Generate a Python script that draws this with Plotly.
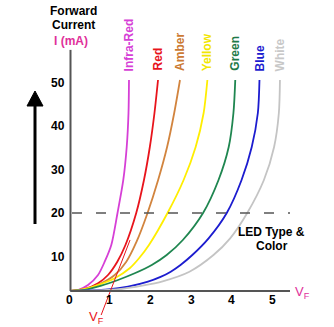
import plotly.graph_objects as go

# ---------------- data ----------------
led_names = ["Infra-Red", "Red", "Amber", "Yellow", "Green", "Blue", "White"]
led_colors = ["#d63fd6", "#e8141c", "#d2843e", "#ffee00", "#1f8650", "#1c1ccf", "#c4c4c4"]
label_colors = ["#d63fd6", "#e8141c", "#cc7a33", "#f2e600", "#1f7a48", "#1c1ccf", "#c8c8c8"]

ir_v = [0.037, 0.221, 0.467, 0.713, 0.877, 1.039, 1.192, 1.334, 1.418, 1.462, 1.474]
ir_i = [2.07, 2.30, 3.45, 5.75, 8.80, 12.64, 20.0, 27.59, 35.17, 42.99, 50.57]

red_v = [0.037, 0.386, 0.713, 0.958, 1.187, 1.387, 1.652, 1.842, 1.986, 2.100, 2.187]
red_i = [2.07, 2.53, 3.84, 5.75, 8.80, 12.64, 20.0, 27.59, 35.17, 42.99, 50.57]

amber_v = [0.037, 0.467, 0.794, 1.123, 1.408, 1.660, 1.930, 2.190, 2.410, 2.585, 2.727]
amber_i = [2.07, 2.69, 3.84, 5.75, 8.80, 13.40, 20.0, 27.59, 35.17, 42.99, 50.57]

yellow_v = [0.037, 0.386, 0.713, 1.123, 1.491, 1.721, 1.965, 2.421, 2.816, 3.112, 3.308, 3.400]
yellow_i = [2.07, 2.53, 3.45, 4.99, 7.29, 9.59, 12.64, 20.0, 27.59, 35.17, 42.99, 50.57]

green_v = [0.037, 0.386, 0.794, 1.204, 1.614, 2.034, 2.400, 2.797, 3.294, 3.674, 3.924, 4.040, 4.085]
green_i = [2.07, 2.30, 3.29, 4.60, 6.14, 8.05, 10.34, 13.79, 20.0, 27.59, 35.17, 42.99, 50.57]

blue_v = [0.037, 0.467, 0.958, 1.450, 1.940, 2.250, 2.500, 2.740, 3.030, 3.430, 3.876, 4.240, 4.490, 4.640, 4.680]
blue_i = [2.07, 2.18, 2.41, 3.06, 4.21, 5.30, 6.51, 8.05, 10.34, 14.18, 20.0, 27.59, 35.17, 42.99, 50.57]

white_v = [0.037, 0.639, 1.278, 1.800, 2.300, 2.960, 3.550, 3.960, 4.379, 4.789, 5.039, 5.156, 5.183]
white_i = [2.07, 2.18, 2.53, 3.30, 4.30, 6.51, 10.34, 14.18, 20.0, 27.59, 35.17, 42.99, 50.57]

curves_v = [ir_v, red_v, amber_v, yellow_v, green_v, blue_v, white_v]
curves_i = [ir_i, red_i, amber_i, yellow_i, green_i, blue_i, white_i]

x_ticks = [0, 1, 2, 3, 4, 5]
x_tick_labels = ["0", "1", "2", "3", "4", "5"]
y_ticks = [10, 20, 30, 40, 50]
y_tick_labels = ["10", "20", "30", "40", "50"]

ref_current = 20          # dashed reference level (mA)
vf_line_v = [0.79, 1.50]  # forward-voltage construction line
vf_line_i = [-3.45, 13.8]

# ---------------- layout constants ----------------
W, H = 334, 327
X_RANGE = [-1.6953, 6.5111]
Y_RANGE = [-6.207, 68.966]
AX_V0, AX_I0 = 0.037, 2.07      # axis corner
AX_V1 = 5.43                     # end of V axis
AX_I1 = 57.5                     # top of I axis
AXIS_COLOR = "#555555"
FONT = "Liberation Sans, Arial, sans-serif"


def px(x):
    return x / W


def py(y):
    return 1 - y / H


fig = go.Figure()

for name, v, i, c in zip(led_names, curves_v, curves_i, led_colors):
    fig.add_trace(go.Scatter(x=v, y=i, mode="lines", name=name,
                             line=dict(color=c, width=1.8, shape="spline", smoothing=0.8),
                             hoverinfo="skip"))

# VF construction line
fig.add_trace(go.Scatter(x=vf_line_v, y=vf_line_i, mode="lines",
                         line=dict(color="#e8141c", width=1), hoverinfo="skip"))

shapes = [
    # axes
    dict(type="line", xref="x", yref="y", x0=AX_V0, y0=AX_I0, x1=AX_V1, y1=AX_I0,
         line=dict(color=AXIS_COLOR, width=2)),
    dict(type="line", xref="x", yref="y", x0=AX_V0, y0=AX_I0, x1=AX_V0, y1=AX_I1,
         line=dict(color=AXIS_COLOR, width=2)),
    # dashed 20 mA line
    dict(type="line", xref="x", yref="y", x0=0.074, y0=ref_current, x1=AX_V1, y1=ref_current,
         line=dict(color=AXIS_COLOR, width=1.5, dash="10px,14px")),
    # big arrow
    dict(type="line", xref="paper", yref="paper", x0=px(35), y0=py(224), x1=px(35), y1=py(104),
         line=dict(color="black", width=3)),
    dict(type="path", xref="paper", yref="paper",
         path=f"M {px(27)},{py(106)} L {px(43)},{py(106)} L {px(35)},{py(91)} Z",
         fillcolor="black", line=dict(color="black", width=1)),
]

ann = []
bold = dict(family=FONT, size=12, color="black")
for t, lab in zip(x_ticks, x_tick_labels):
    ann.append(dict(x=t, y=0, xref="x", yref="y", text=f"<b>{lab}</b>", showarrow=False,
                    xanchor="center", yanchor="middle", font=bold))
for t, lab in zip(y_ticks, y_tick_labels):
    ann.append(dict(x=-0.06, y=t, xref="x", yref="y", text=f"<b>{lab}</b>", showarrow=False,
                    xanchor="right", yanchor="middle", font=bold))

label_base = 52.2
for name, v, c in zip(led_names, curves_v, label_colors):
    ann.append(dict(x=v[-1], y=label_base, xref="x", yref="y", text=f"<b>{name}</b>",
                    showarrow=False, textangle=-90, xanchor="center", yanchor="bottom",
                    font=dict(family=FONT, size=12, color=c)))

ann += [
    dict(x=px(73.5), y=py(11), xref="paper", yref="paper", text="<b>Forward</b>", showarrow=False,
         xanchor="center", yanchor="middle", font=bold),
    dict(x=px(73.5), y=py(25), xref="paper", yref="paper", text="<b>Current</b>", showarrow=False,
         xanchor="center", yanchor="middle", font=bold),
    dict(x=px(71), y=py(41), xref="paper", yref="paper", text="<b>I (mA)</b>", showarrow=False,
         xanchor="center", yanchor="middle", font=dict(family=FONT, size=12, color="#e0309a")),
    dict(x=px(271.5), y=py(232), xref="paper", yref="paper", text="<b>LED Type &amp;</b>",
         showarrow=False, xanchor="center", yanchor="middle", font=bold),
    dict(x=px(271.5), y=py(245.5), xref="paper", yref="paper", text="<b>Color</b>",
         showarrow=False, xanchor="center", yanchor="middle", font=bold),
    dict(x=px(96), y=py(317), xref="paper", yref="paper", text="V<sub>F</sub>",
         showarrow=False, xanchor="center", yanchor="middle",
         font=dict(family=FONT, size=13, color="#e8141c")),
    dict(x=px(302), y=py(292), xref="paper", yref="paper", text="V<sub>F</sub>",
         showarrow=False, xanchor="center", yanchor="middle",
         font=dict(family=FONT, size=13, color="#e0309a")),
]

fig.update_layout(
    width=W, height=H, margin=dict(l=0, r=0, t=0, b=0),
    paper_bgcolor="white", plot_bgcolor="white", showlegend=False,
    xaxis=dict(range=X_RANGE, visible=False, fixedrange=True),
    yaxis=dict(range=Y_RANGE, visible=False, fixedrange=True),
    shapes=shapes, annotations=ann, font=dict(family=FONT),
)

fig.write_html("out.html", config={"displayModeBar": False})
